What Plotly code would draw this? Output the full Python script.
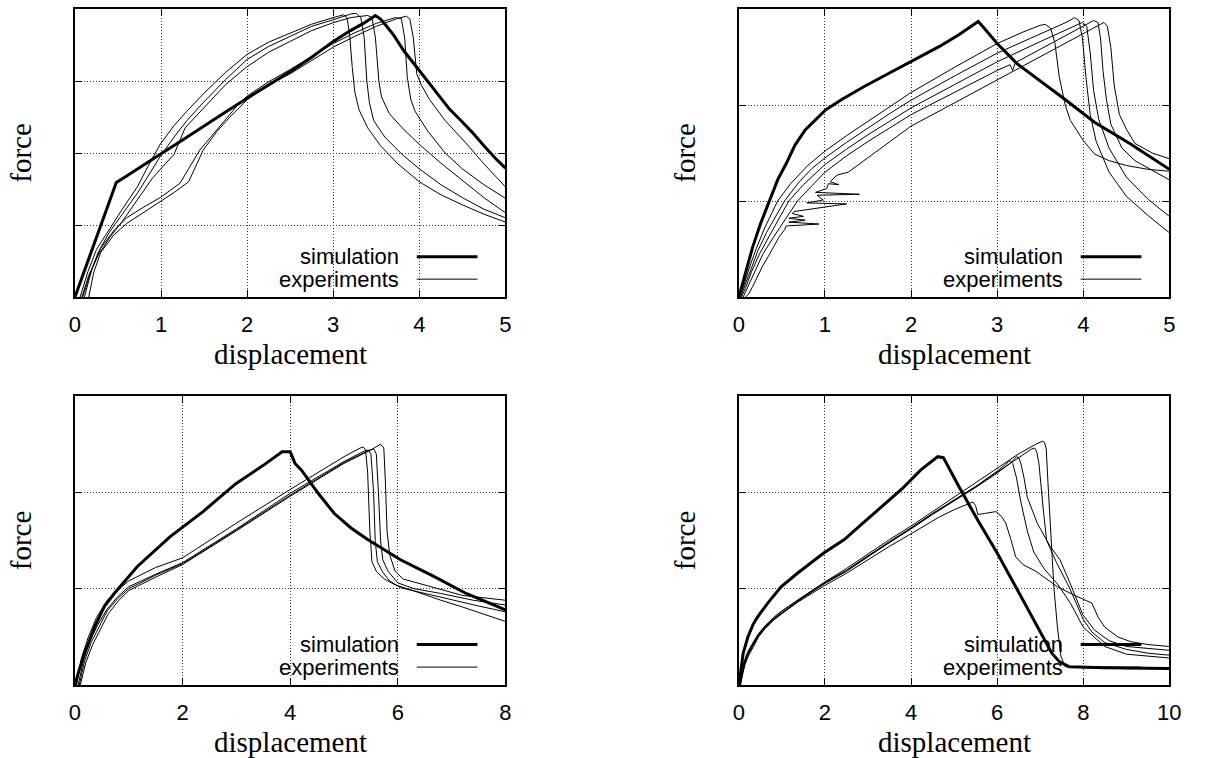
import plotly.graph_objects as go

# ---------------- Panel 1 (top-left) ----------------
p1_sim_x = [0, 0.48, 0.6, 0.8, 1.0, 1.25, 1.5, 1.75, 2.0, 2.25, 2.5, 2.75, 3.0, 3.2, 3.35, 3.49, 3.55, 3.62, 3.7, 3.82, 3.95, 4.08, 4.2, 4.35, 4.5, 4.62, 4.75, 4.88, 5.0]
p1_sim_y = [0, 1.59, 1.68, 1.84, 1.99, 2.18, 2.38, 2.57, 2.76, 2.94, 3.13, 3.33, 3.55, 3.70, 3.80, 3.91, 3.86, 3.76, 3.64, 3.42, 3.22, 3.02, 2.83, 2.61, 2.43, 2.28, 2.10, 1.93, 1.79]

p1_e1_x = [0.06, 0.15, 0.25, 0.4, 0.55, 0.73, 0.85, 0.99, 1.15, 1.3, 1.49, 1.75, 2.0, 2.25, 2.5, 2.75, 3.0, 3.12, 3.16, 3.19, 3.22, 3.25, 3.3, 3.4, 3.55, 3.75, 4.0, 4.25, 4.5, 4.75, 5.0]
p1_e1_y = [0, 0.35, 0.66, 0.95, 1.22, 1.54, 1.82, 2.12, 2.38, 2.58, 2.82, 3.12, 3.37, 3.54, 3.67, 3.79, 3.88, 3.92, 3.88, 3.65, 3.2, 2.85, 2.6, 2.35, 2.1, 1.85, 1.6, 1.42, 1.28, 1.15, 1.04]
p1_e2_x = [0.09, 0.17, 0.27, 0.4, 0.55, 0.73, 0.85, 0.99, 1.15, 1.3, 1.49, 1.75, 2.0, 2.25, 2.5, 2.75, 3.0, 3.2, 3.27, 3.32, 3.36, 3.39, 3.42, 3.47, 3.6, 3.8, 4.0, 4.25, 4.5, 4.75, 5.0]
p1_e2_y = [0, 0.3, 0.62, 0.9, 1.15, 1.45, 1.68, 1.95, 2.22, 2.45, 2.7, 3.02, 3.30, 3.48, 3.62, 3.76, 3.85, 3.93, 3.94, 3.88, 3.6, 3.0, 2.7, 2.45, 2.22, 1.98, 1.78, 1.56, 1.38, 1.22, 1.10]
p1_e3_x = [0.08, 0.16, 0.27, 0.4, 0.55, 0.73, 0.9, 1.05, 1.15, 1.28, 1.49, 1.75, 2.0, 2.25, 2.5, 2.75, 3.0, 3.2, 3.4, 3.45, 3.49, 3.53, 3.56, 3.65, 3.8, 4.0, 4.25, 4.5, 4.75, 5.0]
p1_e3_y = [0, 0.3, 0.58, 0.82, 1.05, 1.35, 1.65, 1.85, 1.98, 2.35, 2.62, 2.95, 3.20, 3.40, 3.55, 3.70, 3.81, 3.88, 3.91, 3.88, 3.6, 3.0, 2.78, 2.55, 2.35, 2.12, 1.86, 1.62, 1.38, 1.17]
p1_e4_x = [0.11, 0.2, 0.3, 0.45, 0.6, 0.8, 0.99, 1.22, 1.45, 1.6, 1.75, 1.9, 2.0, 2.25, 2.5, 2.75, 3.0, 3.25, 3.5, 3.72, 3.79, 3.83, 3.86, 3.9, 3.95, 4.1, 4.3, 4.5, 4.75, 5.0]
p1_e4_y = [0, 0.4, 0.68, 0.92, 1.1, 1.25, 1.38, 1.58, 2.04, 2.25, 2.47, 2.68, 2.79, 2.99, 3.16, 3.34, 3.52, 3.67, 3.80, 3.88, 3.87, 3.6, 3.05, 2.75, 2.58, 2.3, 2.0, 1.78, 1.56, 1.37]
p1_e5_x = [0.16, 0.22, 0.3, 0.45, 0.6, 0.8, 0.99, 1.15, 1.32, 1.49, 1.65, 1.8, 2.0, 2.25, 2.5, 2.75, 3.0, 3.25, 3.5, 3.75, 3.85, 3.89, 3.93, 3.97, 4.02, 4.12, 4.3, 4.54, 4.75, 5.0]
p1_e5_y = [0, 0.35, 0.62, 0.86, 1.02, 1.18, 1.32, 1.45, 1.60, 2.04, 2.30, 2.50, 2.74, 2.95, 3.10, 3.28, 3.47, 3.62, 3.76, 3.87, 3.9, 3.86, 3.6, 3.1, 2.95, 2.74, 2.45, 2.14, 1.85, 1.53]

# ---------------- Panel 2 (top-right) ----------------
p2_sim_x = [0, 0.08, 0.16, 0.25, 0.35, 0.45, 0.55, 0.65, 0.77, 1.01, 1.2, 1.45, 1.7, 1.89, 2.1, 2.33, 2.55, 2.78, 2.85, 3.0, 3.23, 3.46, 3.77, 4.13, 4.54, 5.0]
p2_sim_y = [0, 0.26, 0.52, 0.76, 0.99, 1.22, 1.39, 1.58, 1.74, 1.95, 2.06, 2.19, 2.31, 2.40, 2.50, 2.61, 2.73, 2.87, 2.80, 2.64, 2.43, 2.28, 2.07, 1.82, 1.60, 1.33]

p2_e1_x = [0, 0.05, 0.12, 0.2, 0.3, 0.45, 0.6, 0.8, 1.0, 1.25, 1.5, 1.75, 2.0, 2.5, 3.0, 3.3, 3.5, 3.56, 3.62, 3.67, 3.72, 3.79, 3.85, 4.0, 4.13, 4.3, 4.5, 4.75, 5.0]
p2_e1_y = [0, 0.1, 0.3, 0.5, 0.72, 1.0, 1.18, 1.37, 1.52, 1.68, 1.83, 1.98, 2.13, 2.39, 2.64, 2.76, 2.83, 2.84, 2.80, 2.65, 2.3, 2.0, 1.84, 1.63, 1.49, 1.42, 1.37, 1.33, 1.31]
p2_e2_x = [0.02, 0.07, 0.14, 0.22, 0.32, 0.53, 0.7, 0.85, 1.0, 1.25, 1.5, 1.75, 2.0, 2.5, 3.0, 3.5, 3.8, 3.9, 3.95, 3.99, 4.03, 4.08, 4.15, 4.3, 4.5, 4.75, 5.0]
p2_e2_y = [0, 0.12, 0.3, 0.48, 0.67, 1.0, 1.2, 1.34, 1.45, 1.61, 1.76, 1.91, 2.05, 2.30, 2.54, 2.74, 2.86, 2.91, 2.88, 2.7, 2.3, 1.9, 1.62, 1.3, 1.05, 0.85, 0.67]
p2_e3_x = [0.03, 0.08, 0.15, 0.24, 0.35, 0.58, 0.75, 0.88, 1.0, 1.25, 1.5, 1.75, 2.0, 2.5, 3.0, 3.5, 3.9, 3.99, 4.04, 4.08, 4.12, 4.18, 4.3, 4.5, 4.75, 5.0]
p2_e3_y = [0, 0.1, 0.27, 0.45, 0.63, 1.0, 1.17, 1.28, 1.38, 1.54, 1.69, 1.83, 1.97, 2.21, 2.45, 2.66, 2.82, 2.86, 2.82, 2.55, 2.15, 1.85, 1.55, 1.25, 1.02, 0.84]
p2_e4_x = [0.05, 0.1, 0.18, 0.28, 0.4, 0.68, 0.85, 1.0, 1.25, 1.5, 1.75, 2.0, 2.5, 3.0, 3.15, 3.18, 3.21, 3.5, 3.8, 4.0, 4.12, 4.17, 4.2, 4.23, 4.27, 4.32, 4.45, 4.6, 4.8, 5.0]
p2_e4_y = [0, 0.1, 0.26, 0.45, 0.62, 1.0, 1.16, 1.30, 1.47, 1.62, 1.76, 1.90, 2.13, 2.36, 2.42, 2.36, 2.44, 2.58, 2.73, 2.83, 2.88, 2.86, 2.7, 2.35, 2.05, 1.8, 1.55, 1.42, 1.32, 1.22]
p2_e5_x = [0.08, 0.12, 0.16, 0.22, 0.28, 0.34, 0.41, 0.47, 0.53, 0.55, 0.93, 0.58, 0.77, 0.58, 0.75, 0.62, 0.64, 0.85, 1.06, 1.25, 0.79, 0.98, 0.91, 1.40, 0.89, 1.02, 1.04, 1.16, 1.06, 1.14, 1.27, 1.5, 1.75, 2.0, 2.5, 3.0, 3.5, 3.8, 4.1, 4.24, 4.28, 4.32, 4.36, 4.42, 4.5, 4.6, 4.8, 5.0]
p2_e5_y = [0, 0.04, 0.11, 0.22, 0.33, 0.42, 0.54, 0.63, 0.70, 0.74, 0.76, 0.78, 0.80, 0.82, 0.84, 0.87, 0.89, 0.92, 0.95, 0.97, 0.98, 1.01, 1.06, 1.07, 1.09, 1.13, 1.18, 1.17, 1.20, 1.27, 1.30, 1.45, 1.62, 1.78, 2.02, 2.26, 2.50, 2.64, 2.79, 2.86, 2.82, 2.6, 2.2, 1.9, 1.75, 1.6, 1.5, 1.44]

# ---------------- Panel 3 (bottom-left) ----------------
p3_sim_x = [0, 0.08, 0.18, 0.37, 0.55, 0.73, 1.16, 1.77, 2.38, 2.99, 3.5, 3.85, 4.0, 4.09, 4.21, 4.52, 4.82, 5.13, 5.44, 6.05, 6.66, 7.27, 8.0]
p3_sim_y = [0, 0.16, 0.33, 0.61, 0.82, 0.95, 1.23, 1.54, 1.80, 2.09, 2.28, 2.42, 2.42, 2.30, 2.23, 1.99, 1.78, 1.63, 1.51, 1.30, 1.13, 0.95, 0.78]

p3_e1_x = [0.03, 0.12, 0.25, 0.4, 0.6, 0.8, 1.0, 1.5, 2.0, 3.0, 4.0, 5.0, 5.3, 5.36, 5.40, 5.44, 5.48, 5.52, 5.6, 5.75, 5.95, 6.23, 6.8, 7.2, 8.0]
p3_e1_y = [0, 0.28, 0.5, 0.7, 0.88, 0.99, 1.08, 1.22, 1.32, 1.68, 2.03, 2.37, 2.46, 2.47, 2.44, 2.2, 1.6, 1.28, 1.18, 1.1, 1.04, 0.99, 0.88, 0.81, 0.66]
p3_e2_x = [0.06, 0.16, 0.28, 0.43, 0.6, 0.8, 1.0, 1.5, 2.0, 3.0, 4.0, 5.0, 5.38, 5.45, 5.5, 5.55, 5.58, 5.62, 5.72, 5.85, 6.05, 6.5, 7.0, 7.5, 8.0]
p3_e2_y = [0, 0.26, 0.46, 0.63, 0.79, 0.92, 1.02, 1.15, 1.27, 1.62, 1.99, 2.32, 2.43, 2.44, 2.4, 2.0, 1.5, 1.28, 1.17, 1.08, 1.01, 0.95, 0.88, 0.82, 0.76]
p3_e3_x = [0.08, 0.18, 0.3, 0.45, 0.6, 0.8, 1.0, 1.5, 2.0, 3.0, 4.0, 5.0, 5.48, 5.55, 5.6, 5.64, 5.68, 5.72, 5.82, 6.0, 6.3, 6.8, 7.4, 8.0]
p3_e3_y = [0, 0.25, 0.44, 0.61, 0.77, 0.9, 1.0, 1.14, 1.26, 1.61, 1.97, 2.31, 2.44, 2.45, 2.4, 2.0, 1.5, 1.3, 1.18, 1.06, 1.0, 0.95, 0.88, 0.83]
p3_e4_x = [0.1, 0.2, 0.33, 0.47, 0.62, 0.8, 1.0, 1.5, 2.0, 3.0, 4.0, 5.0, 5.5, 5.68, 5.74, 5.77, 5.8, 5.85, 5.95, 6.1, 6.6, 7.2, 8.0]
p3_e4_y = [0, 0.23, 0.42, 0.58, 0.74, 0.87, 0.98, 1.12, 1.25, 1.60, 1.96, 2.30, 2.44, 2.50, 2.46, 2.1, 1.6, 1.35, 1.18, 1.1, 1.02, 0.93, 0.88]

# ---------------- Panel 4 (bottom-right) ----------------
p4_sim_x = [0, 0.05, 0.1, 0.21, 0.33, 0.44, 0.67, 0.98, 1.36, 1.97, 2.45, 2.88, 3.34, 3.8, 4.22, 4.5, 4.62, 4.75, 5.11, 5.55, 6.0, 6.43, 6.85, 7.27, 7.45, 7.67, 8.5, 10]
p4_sim_y = [0, 0.18, 0.33, 0.5, 0.63, 0.71, 0.85, 1.02, 1.16, 1.37, 1.51, 1.68, 1.86, 2.04, 2.23, 2.33, 2.37, 2.36, 2.06, 1.71, 1.37, 1.02, 0.68, 0.33, 0.24, 0.19, 0.18, 0.17]

p4_e1_x = [0.03, 0.07, 0.13, 0.2, 0.3, 0.45, 0.6, 0.8, 1.0, 1.4, 2.0, 2.5, 3.0, 3.5, 4.0, 4.5, 5.0, 5.5, 6.0, 6.5, 6.9, 7.05, 7.1, 7.14, 7.18, 7.25, 7.32, 7.4, 7.48, 7.58, 8.0, 9.0, 10.0]
p4_e1_y = [0, 0.13, 0.25, 0.34, 0.42, 0.53, 0.61, 0.70, 0.77, 0.89, 1.07, 1.21, 1.36, 1.51, 1.65, 1.80, 1.95, 2.10, 2.25, 2.40, 2.50, 2.53, 2.52, 2.45, 2.1, 1.5, 1.0, 0.6, 0.3, 0.19, 0.18, 0.17, 0.17]
p4_e2_x = [0.02, 0.06, 0.12, 0.2, 0.29, 0.45, 0.59, 0.8, 0.98, 1.36, 1.97, 2.5, 3.0, 3.5, 4.0, 4.5, 5.0, 5.5, 6.0, 6.4, 6.8, 6.87, 6.92, 6.97, 7.02, 7.08, 7.15, 7.38, 7.69, 8.0, 8.2, 8.5, 9.0, 9.5, 10.0]
p4_e2_y = [0, 0.12, 0.24, 0.33, 0.40, 0.52, 0.60, 0.69, 0.76, 0.88, 1.06, 1.19, 1.34, 1.49, 1.63, 1.78, 1.92, 2.06, 2.21, 2.33, 2.45, 2.46, 2.42, 2.3, 2.05, 1.78, 1.5, 1.27, 1.0, 0.68, 0.55, 0.44, 0.37, 0.33, 0.31]
p4_e3_x = [0.04, 0.08, 0.14, 0.22, 0.31, 0.46, 0.6, 0.8, 1.0, 1.37, 1.98, 2.5, 3.0, 3.5, 4.0, 4.5, 5.0, 5.5, 6.0, 6.3, 6.45, 6.5, 6.55, 6.62, 6.7, 6.93, 7.23, 7.46, 7.7, 7.99, 8.26, 8.6, 9.0, 9.5, 10.0]
p4_e3_y = [0, 0.11, 0.22, 0.32, 0.39, 0.51, 0.59, 0.68, 0.75, 0.87, 1.05, 1.18, 1.33, 1.48, 1.62, 1.77, 1.91, 2.05, 2.20, 2.30, 2.37, 2.36, 2.3, 2.16, 1.95, 1.68, 1.44, 1.30, 1.05, 0.73, 0.57, 0.46, 0.40, 0.38, 0.36]
p4_e4_x = [0.03, 0.08, 0.14, 0.22, 0.31, 0.46, 0.6, 0.8, 1.0, 1.37, 1.98, 2.5, 3.0, 3.5, 4.0, 4.64, 5.0, 5.44, 5.5, 5.55, 5.7, 5.85, 5.97, 6.1, 6.2, 6.32, 6.43, 6.6, 6.9, 7.4, 7.8, 8.2, 8.35, 8.5, 8.8, 9.1, 9.5, 10.0]
p4_e4_y = [0, 0.1, 0.21, 0.3, 0.38, 0.5, 0.58, 0.67, 0.74, 0.86, 1.03, 1.16, 1.30, 1.44, 1.57, 1.74, 1.82, 1.90, 1.86, 1.77, 1.78, 1.79, 1.80, 1.75, 1.68, 1.51, 1.33, 1.25, 1.18, 1.02, 0.93, 0.85, 0.70, 0.60, 0.50, 0.45, 0.42, 0.40]
p4_e5_x = [0.02, 0.07, 0.13, 0.21, 0.3, 0.45, 0.6, 0.8, 1.0, 1.37, 1.98, 2.5, 3.0, 3.5, 4.0, 4.5, 5.0, 5.5, 6.0, 6.3, 6.36, 6.45, 6.55, 6.7, 6.85, 7.1, 7.4, 7.7, 8.0, 8.5, 9.0, 10.0]
p4_e5_y = [0, 0.12, 0.23, 0.32, 0.40, 0.51, 0.60, 0.68, 0.75, 0.87, 1.05, 1.19, 1.34, 1.48, 1.63, 1.78, 1.92, 2.06, 2.22, 2.33, 2.30, 2.15, 1.9, 1.6, 1.38, 1.2, 1.05, 0.85, 0.6, 0.4, 0.32, 0.28]

# axis settings / labels
x_ranges = [[0, 5], [0, 5], [0, 8], [0, 10]]
x_dticks = [1, 1, 2, 2]
y_ranges = [[0, 4], [0, 3], [0, 3], [0, 3]]
x_title = "displacement"
y_title = "force"
legend_labels = ["simulation", "experiments"]

panels = [
    (p1_sim_x, p1_sim_y, [(p1_e1_x, p1_e1_y), (p1_e2_x, p1_e2_y), (p1_e3_x, p1_e3_y), (p1_e4_x, p1_e4_y), (p1_e5_x, p1_e5_y)]),
    (p2_sim_x, p2_sim_y, [(p2_e1_x, p2_e1_y), (p2_e2_x, p2_e2_y), (p2_e3_x, p2_e3_y), (p2_e4_x, p2_e4_y), (p2_e5_x, p2_e5_y)]),
    (p3_sim_x, p3_sim_y, [(p3_e1_x, p3_e1_y), (p3_e2_x, p3_e2_y), (p3_e3_x, p3_e3_y), (p3_e4_x, p3_e4_y)]),
    (p4_sim_x, p4_sim_y, [(p4_e1_x, p4_e1_y), (p4_e2_x, p4_e2_y), (p4_e3_x, p4_e3_y), (p4_e4_x, p4_e4_y), (p4_e5_x, p4_e5_y)]),
]

W, H = 1205, 758
# plot-area pixel boxes (left, right, top, bottom)
boxes = [(70, 507, 9, 297), (744, 1181, 9, 297), (70, 507, 396, 685), (744, 1181, 396, 685)]

fig = go.Figure()
layout = dict(
    width=W, height=H, margin=dict(l=0, r=0, t=0, b=0),
    paper_bgcolor="white", plot_bgcolor="white", showlegend=False,
    shapes=[], annotations=[],
)

tick_font = dict(family="Liberation Sans", size=22, color="black")
title_font = dict(family="Liberation Serif", size=29, color="black")
leg_font = dict(family="Liberation Sans", size=22, color="black")

for i, (sx, sy, exps) in enumerate(panels):
    n = i + 1
    xa = "x" if n == 1 else f"x{n}"
    ya = "y" if n == 1 else f"y{n}"
    for ex, ey in exps:
        fig.add_trace(go.Scatter(x=ex, y=ey, mode="lines", xaxis=xa, yaxis=ya,
                                 line=dict(color="black", width=1), hoverinfo="skip"))
    fig.add_trace(go.Scatter(x=sx, y=sy, mode="lines", xaxis=xa, yaxis=ya,
                             line=dict(color="black", width=3), hoverinfo="skip"))
    l, r, t, b = boxes[i]
    common = dict(showline=True, linecolor="black", linewidth=1.5, mirror="ticks",
                  ticks="inside", ticklen=7, tickwidth=1, tickcolor="black",
                  showgrid=True, gridcolor="#333333", griddash="1px,2px", gridwidth=1,
                  zeroline=False, fixedrange=True)
    layout[f"xaxis{'' if n == 1 else n}"] = dict(
        domain=[l / W, r / W], range=x_ranges[i], dtick=x_dticks[i], tick0=0,
        anchor=ya, tickfont=tick_font, ticklabelstandoff=7, **common)
    layout[f"yaxis{'' if n == 1 else n}"] = dict(
        domain=[1 - b / H, 1 - t / H], range=y_ranges[i], dtick=1, tick0=0,
        anchor=xa, showticklabels=False, **common)
    # axis titles
    layout["annotations"].append(dict(
        text=x_title, x=(l + r) / 2 / W, y=1 - (b + 57) / H, xref="paper", yref="paper",
        xanchor="center", yanchor="middle", showarrow=False, font=title_font))
    layout["annotations"].append(dict(
        text=y_title, x=(l - 55) / W, y=1 - (t + b) / 2 / H, xref="paper", yref="paper",
        xanchor="center", yanchor="middle", showarrow=False, textangle=-90, font=title_font))
    # legend (text left of sample, gnuplot style)
    for lab, yy, lw in [(legend_labels[0], 0.14, 3), (legend_labels[1], 0.062, 1)]:
        layout["annotations"].append(dict(
            text=lab, x=0.757, y=yy, xref=f"{xa} domain", yref=f"{ya} domain",
            xanchor="right", yanchor="middle", showarrow=False, font=leg_font))
        layout["shapes"].append(dict(
            type="line", x0=0.794, x1=0.935, y0=yy, y1=yy,
            xref=f"{xa} domain", yref=f"{ya} domain",
            line=dict(color="black", width=lw)))

fig.update_layout(**layout)
fig.write_html("out.html", post_script="document.body.style.margin='0';",
               config={"displayModeBar": False})
